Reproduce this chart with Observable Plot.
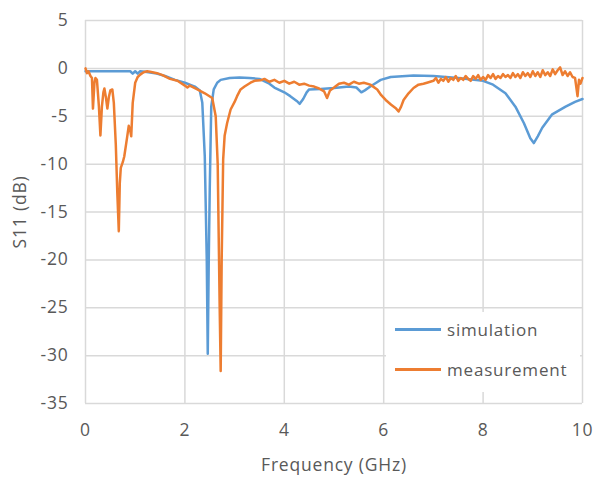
<!DOCTYPE html>
<html>
<head>
<meta charset="utf-8">
<script src="https://cdn.jsdelivr.net/npm/d3@7"></script>
<script src="https://cdn.jsdelivr.net/npm/@observablehq/plot@0.6"></script>
<style>
  html, body { margin: 0; padding: 0; background: #fff; }
  #wrap { position: relative; width: 596px; height: 477px; font-family: "Open Sans", sans-serif; color: #595959; }
  #wrap svg text { letter-spacing: 0.8px; }
  #legend { position: absolute; left: 386px; top: 312px; width: 194px; height: 80px; background: #fff; font-size: 17px; letter-spacing: 0.8px; }
  .row { position: absolute; left: 9px; display: flex; align-items: center; height: 22px; }
  .row span.sw { display: inline-block; width: 46px; height: 3px; margin-right: 6px; }
</style>
</head>
<body>
<div id="wrap"></div>
<script>
const xTicks = [0, 2, 4, 6, 8, 10];
const yTicks = [5, 0, -5, -10, -15, -20, -25, -30, -35];
const seriesNames = ["simulation", "measurement"];
const seriesColors = ["#5B9BD5", "#ED7D31"];

const freqSim = [0, 0.5, 0.9, 0.95, 1.0, 1.05, 1.1, 1.2, 1.4, 1.6, 1.8, 2.0, 2.2, 2.3, 2.35, 2.4, 2.44, 2.46, 2.48, 2.5, 2.53, 2.58, 2.65, 2.72, 2.9, 3.1, 3.3, 3.5, 3.7, 3.8, 4.0, 4.12, 4.25, 4.31, 4.38, 4.45, 4.5, 4.73, 5.0, 5.3, 5.45, 5.55, 5.62, 5.73, 5.85, 5.94, 6.14, 6.6, 7.0, 7.5, 8.0, 8.2, 8.45, 8.65, 8.82, 8.95, 9.02, 9.1, 9.19, 9.39, 9.66, 9.85, 10];
const s11Sim = [-0.3, -0.3, -0.3, -0.55, -0.3, -0.55, -0.3, -0.35, -0.5, -0.8, -1.2, -1.5, -1.9, -2.3, -3.6, -9.2, -20, -29.8, -20, -12.6, -4, -2.2, -1.5, -1.2, -1.0, -0.95, -1.0, -1.1, -1.6, -2.0, -2.5, -2.9, -3.4, -3.7, -3.2, -2.5, -2.2, -2.15, -2.05, -1.9, -2.0, -2.5, -2.3, -1.9, -1.5, -1.2, -0.9, -0.75, -0.8, -1.0, -1.3, -1.7, -2.6, -4, -5.7, -7.3, -7.8, -7.1, -6.2, -4.8, -4.0, -3.5, -3.2];

const freqMeas = [0, 0.03, 0.06, 0.1, 0.13, 0.15, 0.18, 0.2, 0.23, 0.27, 0.3, 0.33, 0.36, 0.38, 0.41, 0.44, 0.47, 0.5, 0.54, 0.57, 0.61, 0.64, 0.67, 0.69, 0.71, 0.75, 0.78, 0.82, 0.84, 0.87, 0.9, 0.92, 0.95, 1.0, 1.05, 1.1, 1.17, 1.24, 1.3, 1.44, 1.55, 1.7, 1.85, 2.0, 2.05, 2.1, 2.25, 2.4, 2.55, 2.62, 2.66, 2.7, 2.72, 2.74, 2.77, 2.8, 2.85, 2.92, 3.0, 3.05, 3.12, 3.2, 3.32, 3.4, 3.52, 3.6, 3.7, 3.8, 3.9, 4.0, 4.1, 4.2, 4.3, 4.4, 4.5, 4.6, 4.7, 4.8, 4.86, 4.92, 5.0, 5.1, 5.2, 5.3, 5.4, 5.5, 5.6, 5.73, 5.87, 5.95, 6.04, 6.15, 6.25, 6.3, 6.35, 6.4, 6.5, 6.6, 6.7, 6.8, 6.87,
  7.0, 7.05, 7.1, 7.15, 7.2, 7.25, 7.3, 7.35, 7.4, 7.45, 7.5, 7.55, 7.6, 7.65, 7.7, 7.75, 7.8, 7.85, 7.9, 7.95, 8.0, 8.05, 8.1, 8.15, 8.2, 8.25, 8.3, 8.35, 8.4, 8.45, 8.5, 8.55, 8.6, 8.65, 8.7, 8.75, 8.8, 8.85, 8.9, 8.95, 9.0, 9.05, 9.1, 9.15, 9.2, 9.25, 9.3, 9.35, 9.4, 9.45, 9.5, 9.55, 9.6, 9.65, 9.7, 9.75, 9.8, 9.85, 9.9, 9.93, 9.96, 10];
const s11Meas = [0, -0.5, -0.3, -0.8, -1.0, -4.2, -1.5, -1.0, -1.2, -4, -7, -4, -2.5, -2.1, -3, -4.2, -3, -2.3, -2.2, -3.6, -8, -13, -17, -12, -10.4, -9.8, -9.2, -7.8, -7.1, -6.0, -6.5, -7.1, -3.6, -1.5, -0.9, -0.65, -0.4, -0.3, -0.35, -0.5, -0.7, -1.1, -1.3, -1.8, -2.0, -1.8, -2.2, -2.6, -3.1, -5, -10, -25, -31.6, -20, -9.5, -7, -5.7, -4.3, -3.5, -2.9, -2.2, -1.9, -1.5, -1.3, -1.25, -1.1, -1.4, -1.2, -1.5, -1.3, -1.6, -1.4, -1.7, -1.6, -1.8, -1.9, -2.1, -2.4, -3.1, -2.3, -2.0, -1.6, -1.5, -1.7, -1.4, -1.6, -1.5, -1.7, -2.2, -2.8, -3.3, -3.8, -4.2, -4.5, -4, -3.3, -2.6, -2.05, -1.7, -1.6, -1.5,
  -1.3, -1.0, -1.5, -1.1, -1.3, -0.9, -1.4, -1.0, -1.2, -0.8, -1.3, -1.0, -1.2, -0.8, -1.1, -1.3, -0.8, -1.1, -0.7, -1.2, -0.9, -1.2, -0.7, -1.0, -0.6, -1.1, -0.8, -1.0, -0.6, -0.9, -0.7, -1.0, -0.5, -0.9, -0.6, -1.0, -0.4, -0.8, -0.5, -0.9, -0.3, -0.8, -0.4, -0.9, -0.2, -0.7, -0.4, -0.8, -0.1, -0.6, -0.2, 0.1, -0.7, -0.3, -0.8, -0.4, -0.9, -1.0, -2.9, -1.2, -1.6, -1.0];

const sim = freqSim.map((f, i) => ({f, v: s11Sim[i]}));
const meas = freqMeas.map((f, i) => ({f, v: s11Meas[i]}));

const chart = Plot.plot({
  width: 596,
  height: 477,
  marginLeft: 85,
  marginRight: 14,
  marginTop: 20,
  marginBottom: 74,
  style: {fontFamily: "Open Sans", fontSize: "17.5px", color: "#595959", background: "white", overflow: "visible"},
  x: {domain: [0, 10], ticks: xTicks, tickFormat: d => String(d), tickSize: 0, tickPadding: 20,
      label: "Frequency (GHz)", labelAnchor: "center", labelOffset: 67, labelArrow: "none"},
  y: {domain: [-35, 5], ticks: yTicks, tickFormat: d => String(d), tickSize: 0, tickPadding: 17,
      label: "S11 (dB)", labelAnchor: "center", labelOffset: 72, labelArrow: "none"},
  marks: [
    Plot.gridX(xTicks, {stroke: "#d9d9d9", strokeOpacity: 1, strokeWidth: 1.5}),
    Plot.gridY(yTicks, {stroke: "#d9d9d9", strokeOpacity: 1, strokeWidth: 1.5}),
    Plot.line(sim, {x: "f", y: "v", stroke: seriesColors[0], strokeWidth: 2.5, curve: "linear"}),
    Plot.line(meas, {x: "f", y: "v", stroke: seriesColors[1], strokeWidth: 2.5, curve: "linear"})
  ]
});

const wrap = document.getElementById("wrap");
wrap.appendChild(chart);

const legend = document.createElement("div");
legend.id = "legend";
seriesNames.forEach((name, i) => {
  const row = document.createElement("div");
  row.className = "row";
  row.style.top = (6 + i * 40) + "px";
  const sw = document.createElement("span");
  sw.className = "sw";
  sw.style.background = seriesColors[i];
  const t = document.createElement("span");
  t.textContent = name;
  row.appendChild(sw);
  row.appendChild(t);
  legend.appendChild(row);
});
wrap.appendChild(legend);
</script>
</body>
</html>
